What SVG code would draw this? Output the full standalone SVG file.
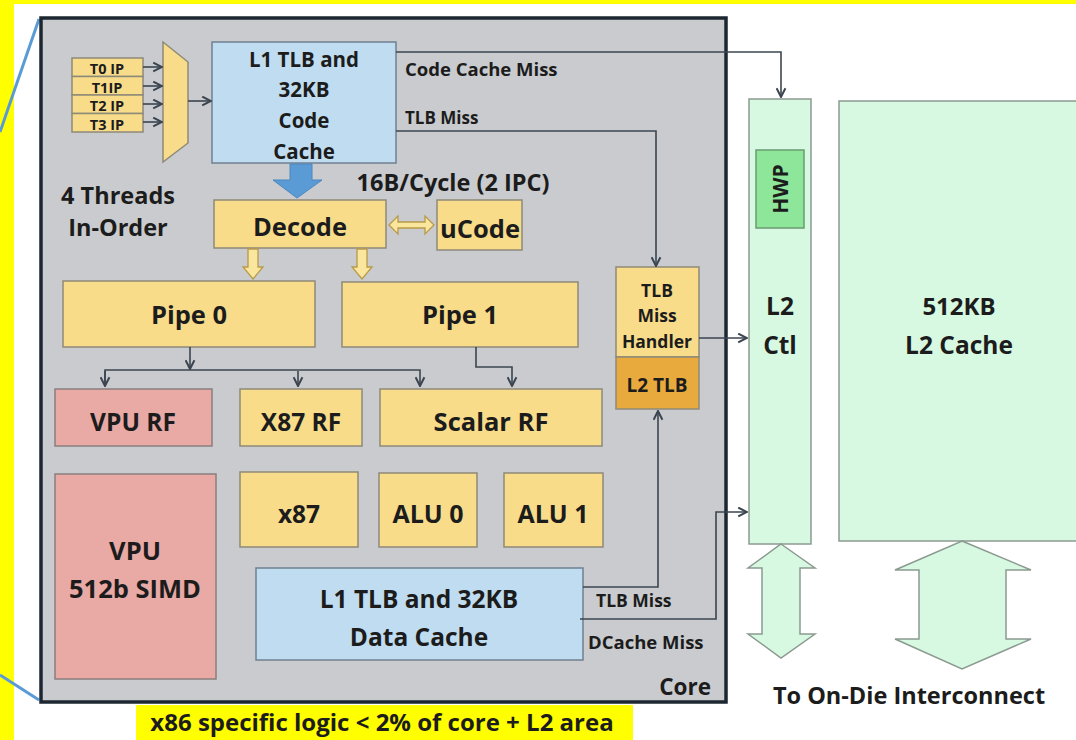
<svg xmlns="http://www.w3.org/2000/svg" width="1076" height="740" viewBox="0 0 1076 740">
<style>
.t{font-family:"Open Sans","Liberation Sans",sans-serif;font-weight:bold;fill:#1c1c1c;text-anchor:middle}
.y{fill:#f8dc8a;stroke:#8e8a78;stroke-width:1.5}
.p{fill:#e9a9a5;stroke:#8a7f7f;stroke-width:1.5}
.b{fill:#c0dcf0;stroke:#6f8090;stroke-width:1.5}
.g{fill:#d7f8e1;stroke:#8b9a90;stroke-width:1.5}
.c{fill:none;stroke:#3b4550;stroke-width:1.6}
.ya{fill:#fbe69e;stroke:#b89a48;stroke-width:1.3}
</style>
<defs>
<marker id="ah" viewBox="0 0 10 10" refX="9" refY="5" markerWidth="11" markerHeight="11" markerUnits="userSpaceOnUse" orient="auto"><path d="M1,1 L9,5 L1,9" fill="none" stroke="#3b4550" stroke-width="1.8"/></marker>
</defs>
<rect x="0" y="0" width="1076" height="740" fill="#ffff00"/>
<rect x="14" y="4" width="1062" height="736" fill="#ffffff"/>
<g id="callout-lines" stroke="#5b9bd5" stroke-width="3" fill="none">
<path d="M39,19 L0,132"/>
<path d="M0,675 L39,700"/>
</g>
<g id="core">
<rect x="41" y="18" width="685" height="684" fill="#c9cbce" stroke="#1d2731" stroke-width="3.5"/>
<text class="t" x="711" y="695" font-size="22.5" style="text-anchor:end">Core</text>
</g>
<g id="area-label">
<rect x="136" y="705" width="497" height="35" fill="#ffff00"/>
<text class="t" x="382" y="731" font-size="24" font-weight="600">x86 specific logic &lt; 2% of core + L2 area</text>
</g>
<g id="thread-ips">
<rect class="y" x="72" y="58" width="71" height="18.5"/>
<rect class="y" x="72" y="76.5" width="71" height="18.5"/>
<rect class="y" x="72" y="95" width="71" height="18.5"/>
<rect class="y" x="72" y="113.5" width="71" height="18.5"/>
<text class="t" x="107" y="74" font-size="14.5">T0 IP</text>
<text class="t" x="107" y="92.5" font-size="14.5">T1IP</text>
<text class="t" x="107" y="111" font-size="14.5">T2 IP</text>
<text class="t" x="107" y="129.5" font-size="14.5">T3 IP</text>
</g>
<g id="mux"><polygon class="y" points="163,42 188,62 188,143 163,162"/></g>
<g id="code-cache">
<rect class="b" x="212" y="42" width="184" height="121"/>
<text class="t" x="304" y="67" font-size="20.5">L1 TLB and</text>
<text class="t" x="304" y="97" font-size="20.5">32KB</text>
<text class="t" x="304" y="128" font-size="20.5">Code</text>
<text class="t" x="304" y="159" font-size="20.5">Cache</text>
</g>
<g id="fetch-arrow"><polygon points="290,164 312,164 312,180 322,180 297,198 273,180 290,180" fill="#5b9bd5" stroke="#4a86bd" stroke-width="1"/></g>
<g id="labels">
<text class="t" x="118" y="204" font-size="23.5" font-weight="600">4 Threads</text>
<text class="t" x="118" y="236" font-size="23.5" font-weight="600">In-Order</text>
<text class="t" x="453" y="191" font-size="23.5" font-weight="600">16B/Cycle (2 IPC)</text>
<text class="t" x="405" y="76" font-size="18.5" style="text-anchor:start">Code Cache Miss</text>
<text class="t" x="405" y="124" font-size="17" style="text-anchor:start">TLB Miss</text>
<text class="t" x="596" y="607" font-size="17.5" style="text-anchor:start">TLB Miss</text>
<text class="t" x="588" y="649" font-size="18.5" style="text-anchor:start">DCache Miss</text>
</g>
<g id="decode">
<rect class="y" x="214" y="200" width="172" height="48"/>
<text class="t" x="300" y="236" font-size="25.5">Decode</text>
</g>
<g id="ucode">
<rect class="y" x="437" y="200" width="85" height="50"/>
<text class="t" x="480" y="238" font-size="25.5">uCode</text>
</g>
<g id="pipe0">
<rect class="y" x="63" y="281" width="252" height="66"/>
<text class="t" x="189" y="324" font-size="25.5">Pipe 0</text>
</g>
<g id="pipe1">
<rect class="y" x="342" y="282" width="236" height="65"/>
<text class="t" x="460" y="324" font-size="25.5">Pipe 1</text>
</g>
<g id="vpu-rf">
<rect class="p" x="55" y="389" width="157" height="57"/>
<text class="t" x="133" y="431" font-size="24.5">VPU RF</text>
</g>
<g id="x87-rf">
<rect class="y" x="240" y="389" width="122" height="57"/>
<text class="t" x="301" y="431" font-size="24.5">X87 RF</text>
</g>
<g id="scalar-rf">
<rect class="y" x="380" y="389" width="222" height="57"/>
<text class="t" x="491" y="431" font-size="25.5">Scalar RF</text>
</g>
<g id="tlb-miss-handler">
<rect class="y" x="616" y="267" width="83" height="90"/>
<text class="t" x="657" y="297" font-size="17.5">TLB</text>
<text class="t" x="657" y="322" font-size="17.5">Miss</text>
<text class="t" x="657" y="348" font-size="17.5">Handler</text>
</g>
<g id="l2-tlb">
<rect x="616" y="357" width="83" height="52" fill="#e8aa3c" stroke="#8e8a78" stroke-width="1.5"/>
<text class="t" x="657" y="392" font-size="19">L2 TLB</text>
</g>
<g id="x87">
<rect class="y" x="240" y="472" width="118" height="75"/>
<text class="t" x="299" y="523" font-size="24.5">x87</text>
</g>
<g id="alu0">
<rect class="y" x="379" y="473" width="98" height="74"/>
<text class="t" x="428" y="523" font-size="25">ALU 0</text>
</g>
<g id="alu1">
<rect class="y" x="504" y="473" width="99" height="74"/>
<text class="t" x="553" y="523" font-size="25">ALU 1</text>
</g>
<g id="vpu">
<rect class="p" x="55" y="474" width="161" height="205"/>
<text class="t" x="135" y="560" font-size="25.5">VPU</text>
<text class="t" x="135" y="598" font-size="25.5">512b SIMD</text>
</g>
<g id="data-cache">
<rect class="b" x="256" y="568" width="327" height="92"/>
<text class="t" x="419" y="608" font-size="24.5">L1 TLB and 32KB</text>
<text class="t" x="419" y="646" font-size="24.5">Data Cache</text>
</g>
<g id="l2-ctl">
<rect class="g" x="749" y="99" width="62" height="445"/>
<rect x="756" y="150" width="48" height="78" fill="#8ee69b" stroke="#6a9a70" stroke-width="1.5"/>
<text class="t" x="0" y="0" font-size="21" transform="translate(788,189) rotate(-90)">HWP</text>
<text class="t" x="780" y="315" font-size="24.5">L2</text>
<text class="t" x="780" y="354" font-size="24.5">Ctl</text>
</g>
<g id="l2-cache">
<rect class="g" x="839" y="101" width="250" height="440"/>
<text class="t" x="959" y="315" font-size="24">512KB</text>
<text class="t" x="959" y="354" font-size="24.5">L2 Cache</text>
</g>
<g id="interconnect">
<polygon class="g" points="781,544 815,568 800,568 800,634 815,634 781,658 748,634 762,634 762,568 748,568"/>
<polygon class="g" points="962,541 1031,570 1006,570 1006,639 1031,639 962,669 895,639 919,639 919,570 895,570"/>
<text class="t" x="909" y="704" font-size="23.5">To On-Die Interconnect</text>
</g>
<g id="connectors">
<path class="c" d="M143,67 H162" marker-end="url(#ah)"/>
<path class="c" d="M143,86 H162" marker-end="url(#ah)"/>
<path class="c" d="M143,104 H162" marker-end="url(#ah)"/>
<path class="c" d="M143,122 H162" marker-end="url(#ah)"/>
<path class="c" d="M188,101 H211" marker-end="url(#ah)"/>
<path class="c" d="M396,52 H781 V97" marker-end="url(#ah)"/>
<path class="c" d="M396,131 H656 V266" marker-end="url(#ah)"/>
<path class="c" d="M190,347 V369" marker-end="url(#ah)"/>
<path class="c" d="M105,386 V370 H420 V386" marker-end="url(#ah)"/>
<path class="c" d="M105,371 V386" marker-end="url(#ah)"/>
<path class="c" d="M298,371 V386" marker-end="url(#ah)"/>
<path class="c" d="M476,347 V367 H512 V386" marker-end="url(#ah)"/>
<path class="c" d="M699,338 H747" marker-end="url(#ah)"/>
<path class="c" d="M583,587 H658 V411" marker-end="url(#ah)"/>
<path class="c" d="M580,619 H716 V512 H747" marker-end="url(#ah)"/>
<polygon class="ya" points="389,225 398,216 398,222 425,222 425,216 434,225 425,234 425,228 398,228 398,234"/>
<polygon class="ya" points="248,249 258,249 258,267 263,267 253,279 243,267 248,267"/>
<polygon class="ya" points="357,249 367,249 367,267 372,267 362,279 352,267 357,267"/>
</g>
</svg>
